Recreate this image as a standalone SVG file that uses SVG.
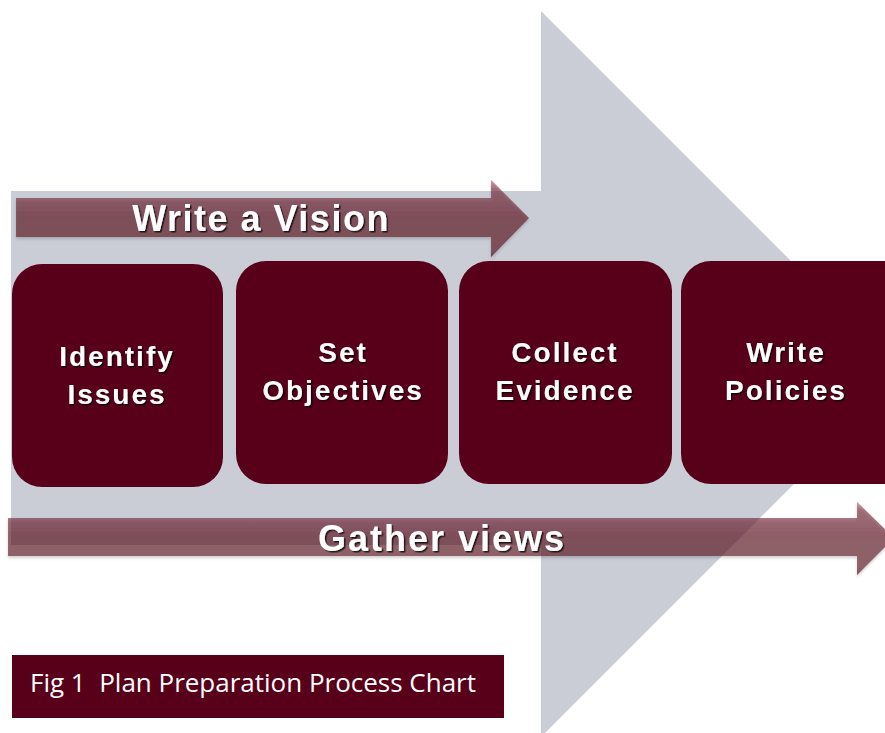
<svg xmlns="http://www.w3.org/2000/svg" width="885" height="733" viewBox="0 0 885 733">
  <defs>
    <filter id="txtShadow" x="-10%" y="-20%" width="120%" height="150%">
      <feDropShadow dx="1.5" dy="1.5" stdDeviation="0.6" flood-color="#000000" flood-opacity="0.75"/>
    </filter>
    <filter id="arrShadow" x="-5%" y="-20%" width="110%" height="160%">
      <feDropShadow dx="0" dy="2" stdDeviation="1.5" flood-color="#000000" flood-opacity="0.3"/>
    </filter>
    <linearGradient id="bevel" x1="0" y1="0" x2="0" y2="1">
      <stop offset="0" stop-color="#f2c4cf" stop-opacity="0.55"/>
      <stop offset="0.12" stop-color="#f2c4cf" stop-opacity="0.15"/>
      <stop offset="0.5" stop-color="#ffffff" stop-opacity="0"/>
      <stop offset="0.9" stop-color="#000000" stop-opacity="0"/>
      <stop offset="1" stop-color="#000000" stop-opacity="0.15"/>
    </linearGradient>
  </defs>
  <style>
    .bg { fill: #cacdd6; }
    .band { fill: #5c0b1c; fill-opacity: 0.6; }
    .box { fill: #58001a; }
    .boxtxt { font-family: "Liberation Sans", Arial, sans-serif; font-weight: bold; font-size: 28px; letter-spacing: 2px; fill: #ffffff; text-anchor: middle; }
    .bandtxt { font-family: "Liberation Sans", Arial, sans-serif; font-weight: bold; font-size: 36px; fill: #ffffff; text-anchor: middle; }
    .cap { font-family: "Open Sans", "Noto Sans", sans-serif; font-size: 26px; fill: #ffffff; white-space: pre; }
  </style>
  <rect x="0" y="0" width="885" height="733" fill="#ffffff"/>

  <!-- large background process arrow -->
  <g id="process-arrow">
    <polygon class="bg" points="11,191 541,191 541,11 904,374 541,737 541,545 11,545"/>
  </g>

  <g id="connectors">
    <g id="write-vision" filter="url(#arrShadow)">
      <polygon class="band" points="16,198 491,198 491,180 529,218 491,257 491,237 16,237"/>
      <polygon fill="url(#bevel)" points="16,198 491,198 491,180 529,218 491,257 491,237 16,237"/>
    </g>
    <text class="bandtxt" x="261" y="231" letter-spacing="1.5" filter="url(#txtShadow)">Write a Vision</text>

    <g id="gather-views" filter="url(#arrShadow)">
      <polygon class="band" points="8,518 857,518 857,502 894,538 857,575 857,556 8,556"/>
      <polygon fill="url(#bevel)" points="8,518 857,518 857,502 894,538 857,575 857,556 8,556"/>
    </g>
    <text class="bandtxt" x="442" y="551" letter-spacing="2" filter="url(#txtShadow)">Gather views</text>
  </g>

  <g id="node-identify-issues">
    <rect class="box" x="12" y="264" width="211" height="223" rx="30" ry="30"/>
    <text class="boxtxt" x="117" y="366" filter="url(#txtShadow)">Identify</text>
    <text class="boxtxt" x="117" y="404" filter="url(#txtShadow)">Issues</text>
  </g>

  <g id="node-set-objectives">
    <rect class="box" x="236" y="261" width="212" height="223" rx="30" ry="30"/>
    <text class="boxtxt" x="343" y="362" filter="url(#txtShadow)">Set</text>
    <text class="boxtxt" x="343" y="400" filter="url(#txtShadow)">Objectives</text>
  </g>

  <g id="node-collect-evidence">
    <rect class="box" x="459" y="261" width="213" height="223" rx="30" ry="30"/>
    <text class="boxtxt" x="565" y="362" filter="url(#txtShadow)">Collect</text>
    <text class="boxtxt" x="565" y="400" filter="url(#txtShadow)">Evidence</text>
  </g>

  <g id="node-write-policies">
    <rect class="box" x="681" y="261" width="235" height="223" rx="30" ry="30"/>
    <text class="boxtxt" x="786" y="362" filter="url(#txtShadow)">Write</text>
    <text class="boxtxt" x="786" y="400" filter="url(#txtShadow)">Policies</text>
  </g>

  <g id="caption">
    <rect class="box" x="12" y="655" width="492" height="63"/>
    <text class="cap" x="30" y="692" textLength="446" lengthAdjust="spacingAndGlyphs" xml:space="preserve">Fig 1  Plan Preparation Process Chart</text>
  </g>
</svg>
